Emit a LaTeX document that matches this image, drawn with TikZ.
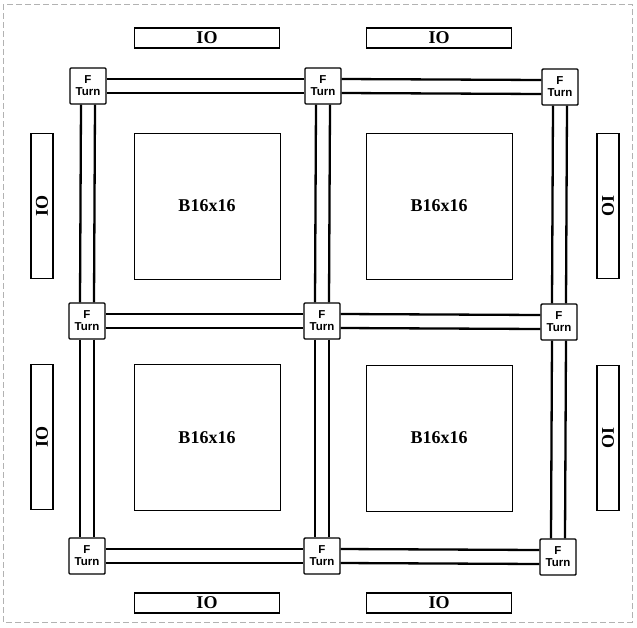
\documentclass[tikz,border=0pt]{standalone}
\usepackage{fontspec}
\setmainfont{Liberation Serif}
\newfontfamily\turnfont{Liberation Sans}
\begin{document}
\begin{tikzpicture}[x=1pt,y=-1pt,
  turnbox/.style={draw, line width=1.4pt, minimum width=36pt, minimum height=36pt, inner sep=0pt, align=center, font=\turnfont\bfseries\fontsize{11.5}{12}\selectfont, rounded corners=1pt},
  blockbox/.style={draw, line width=0.9pt, minimum width=146pt, minimum height=146pt, inner sep=0pt},
  blocklabel/.style={font=\bfseries\fontsize{18}{20}\selectfont},
  iobox/.style={draw, line width=1.1pt, inner sep=0pt, font=\bfseries\fontsize{18}{20}\selectfont},
  hiobox/.style={iobox, minimum width=145pt, minimum height=20pt},
  viobox/.style={iobox, minimum width=22pt, minimum height=145pt},
  bus/.style={line width=2.3pt}
]
\useasboundingbox (0,0) rectangle (637,627);
\draw[gray!60, line width=0.5pt, dash pattern=on 6pt off 3pt] (3,4) rectangle (632,622);

% blocks
\node[blockbox] (b11) at (207,206) {};
\node[blockbox] (b12) at (439,206) {};
\node[blockbox] (b21) at (207,437) {};
\node[blockbox] (b22) at (439,438) {};
\node[blocklabel] (l11) at (207,206) {B16x16};
\node[blocklabel] (l12) at (439,206) {B16x16};
\node[blocklabel] (l21) at (207,438) {B16x16};
\node[blocklabel] (l22) at (439,438) {B16x16};

% IO
\node[hiobox] (iot1) at (207,38) {IO};
\node[hiobox] (iot2) at (439,38) {IO};
\node[hiobox] (iob1) at (207,603) {IO};
\node[hiobox] (iob2) at (439,603) {IO};
\node[viobox] (iol1) at (42,206) {\rotatebox{90}{IO}};
\node[viobox] (iol2) at (42,437) {\rotatebox{90}{IO}};
\node[viobox] (ior1) at (608,206) {\rotatebox{-90}{IO}};
\node[viobox] (ior2) at (608,438) {\rotatebox{-90}{IO}};

% turn nodes
\node[turnbox] (t11) at (88,86) {F\\Turn};
\node[turnbox] (t12) at (323,86) {F\\Turn};
\node[turnbox] (t13) at (560,87) {F\\Turn};
\node[turnbox] (t21) at (87,321) {F\\Turn};
\node[turnbox] (t22) at (322,321) {F\\Turn};
\node[turnbox] (t23) at (559,322) {F\\Turn};
\node[turnbox] (t31) at (87,556) {F\\Turn};
\node[turnbox] (t32) at (322,556) {F\\Turn};
\node[turnbox] (t33) at (558,557) {F\\Turn};

% horizontal buses
\foreach \a/\b in {t11/t12,t12/t13,t21/t22,t22/t23,t31/t32,t32/t33}{
  \draw[bus] ([yshift=7pt]\a.east) -- ([yshift=7pt]\b.west);
  \draw[bus] ([yshift=-7pt]\a.east) -- ([yshift=-7pt]\b.west);
}
% vertical buses
\foreach \a/\b in {t11/t21,t21/t31,t12/t22,t22/t32,t13/t23,t23/t33}{
  \draw[bus] ([xshift=-7pt]\a.south) -- ([xshift=-7pt]\b.north);
  \draw[bus] ([xshift=7pt]\a.south) -- ([xshift=7pt]\b.north);
}
\end{tikzpicture}
\end{document}
